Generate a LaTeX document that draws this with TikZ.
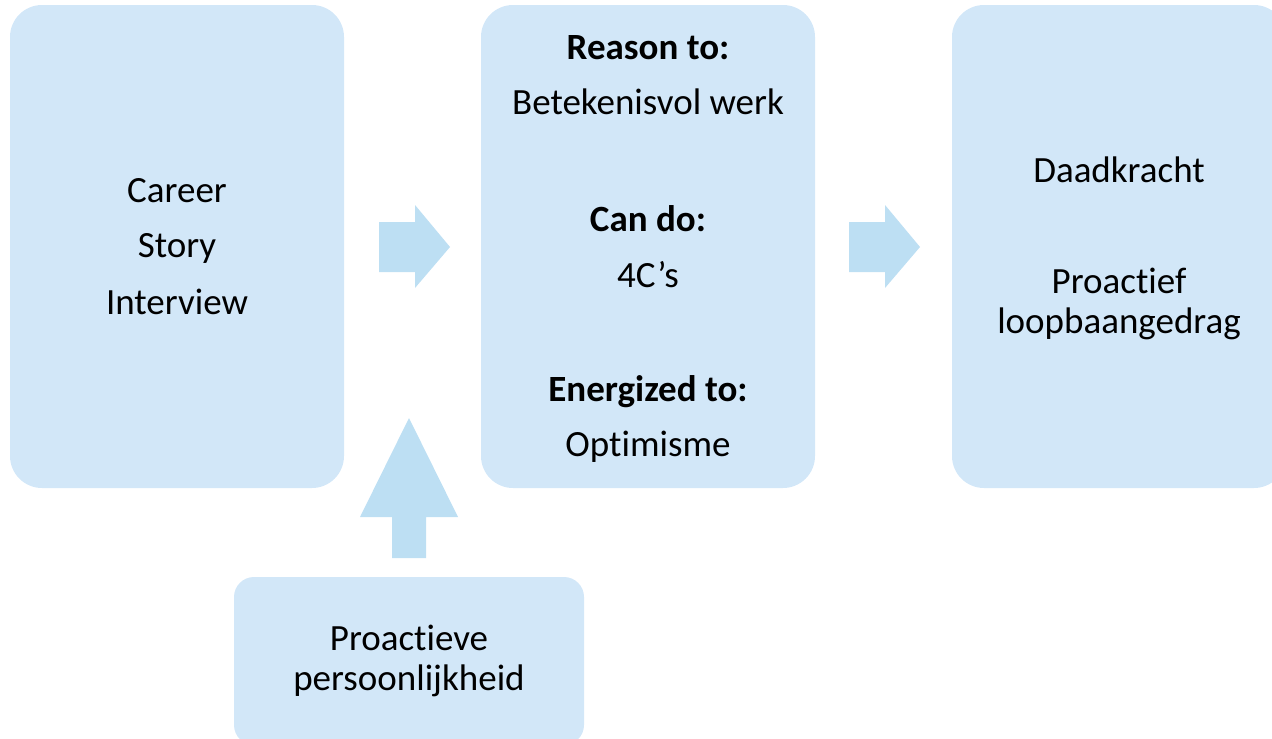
\documentclass[tikz,border=0pt]{standalone}
\usepackage{fontspec}
\setmainfont[Ligatures=NoCommon,RawFeature={-liga}]{Carlito}
\definecolor{boxfill}{RGB}{210,231,248}
\definecolor{arrowfill}{RGB}{189,223,243}
\begin{document}
\begin{tikzpicture}[x=1pt,y=-1pt,
  panel/.style={fill=boxfill,draw=none,rounded corners=32pt,inner sep=0pt,outer sep=0pt},
  smallpanel/.style={fill=boxfill,draw=none,rounded corners=20pt,inner sep=0pt,outer sep=0pt},
  blockarrow/.style={fill=arrowfill,draw=none},
  txt/.style={anchor=base,inner sep=0pt,font=\fontsize{37}{40}\selectfont},
  btxt/.style={txt,font=\fontsize{37}{40}\selectfont\bfseries}]
\useasboundingbox (0,0) rectangle (1272,739);
\clip (0,0) rectangle (1272,739);
% boxes
\node[panel,minimum width=334pt,minimum height=483pt] (b1) at (177,246.5) {};
\node[panel,minimum width=334pt,minimum height=483pt] (b2) at (648,246.5) {};
\node[panel,minimum width=334pt,minimum height=483pt] (b3) at (1119,246.5) {};
\node[smallpanel,minimum width=350pt,minimum height=168pt] (b4) at (409,661) {};
% block arrows
\path[blockarrow] (379,222) -- (415,222) -- (415,205) -- (450,247) -- (415,288) -- (415,272) -- (379,272) -- cycle;
\path[blockarrow] (849,222) -- (885,222) -- (885,205) -- (920,247) -- (885,288) -- (885,272) -- (849,272) -- cycle;
\path[blockarrow] (392,558) -- (392,517) -- (360,517) -- (409,418) -- (458,517) -- (426,517) -- (426,558) -- cycle;
% box 1 text
\node[txt] (t1a) at (177,202) {Career};
\node[txt] (t1b) at (177,257) {Story};
\node[txt] (t1c) at (177,314) {Interview};
% box 2 text
\node[btxt] (t2a) at (648,59) {Reason to:};
\node[txt] (t2b) at (648,114) {Betekenisvol werk};
\node[btxt] (t2c) at (648,231) {Can do:};
\node[txt] (t2d) at (648,287) {4C’s};
\node[btxt] (t2e) at (648,401) {Energized to:};
\node[txt] (t2f) at (648,456) {Optimisme};
% box 3 text
\node[txt] (t3a) at (1119,182) {Daadkracht};
\node[txt] (t3b) at (1119,293) {Proactief};
\node[txt] (t3c) at (1119,333) {loopbaangedrag};
% box 4 text
\node[txt] (t4a) at (409,650) {Proactieve};
\node[txt] (t4b) at (409,690) {persoonlijkheid};
\end{tikzpicture}
\end{document}
